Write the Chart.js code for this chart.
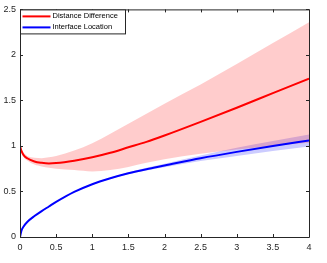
<!DOCTYPE html>
<html lang="en">
<head>
    <meta charset="UTF-8">
    <title>Distance Difference and Interface Location</title>
    <script src="https://cdn.jsdelivr.net/npm/chart.js@4.4.1/dist/chart.umd.min.js"></script>
    <style>
        html, body { margin: 0; padding: 0; background: #fff; }
        #wrap { width: 327px; height: 263px; }
    </style>
</head>
<body>
<div id="wrap"><canvas id="chart" width="327" height="263"></canvas></div>

<script>
    // values
    const xs        = [0, 0.02, 0.05, 0.1, 0.2, 0.3, 0.4, 0.5, 0.75, 1, 1.25, 1.5, 1.75, 2, 2.5, 3, 3.5, 4];
    const distDiff  = [1.0, 0.945, 0.90, 0.865, 0.83, 0.815, 0.808, 0.812, 0.838, 0.875, 0.925, 0.985, 1.045, 1.115, 1.265, 1.42, 1.58, 1.74];
    const distUpper = [1.0, 0.96, 0.925, 0.89, 0.87, 0.865, 0.875, 0.89, 0.95, 1.03, 1.135, 1.245, 1.355, 1.465, 1.675, 1.9, 2.13, 2.36];
    const distLower = [1.0, 0.935, 0.88, 0.84, 0.795, 0.775, 0.76, 0.75, 0.735, 0.72, 0.735, 0.77, 0.815, 0.855, 0.915, 0.96, 1.0, 1.035];
    const iface      = [0, 0.07, 0.115, 0.165, 0.23, 0.285, 0.335, 0.385, 0.495, 0.58, 0.645, 0.70, 0.745, 0.785, 0.865, 0.935, 1.0, 1.06];
    const ifaceUpper = [0, 0.07, 0.115, 0.165, 0.23, 0.285, 0.335, 0.385, 0.497, 0.585, 0.653, 0.71, 0.76, 0.805, 0.895, 0.98, 1.055, 1.125];
    const ifaceLower = [0, 0.07, 0.115, 0.165, 0.23, 0.285, 0.335, 0.385, 0.493, 0.575, 0.637, 0.69, 0.73, 0.765, 0.835, 0.89, 0.945, 0.995];
    const labels = ['Distance Difference', 'Interface Location'];
    const xTicks = [0, 0.5, 1, 1.5, 2, 2.5, 3, 3.5, 4];
    const yTicks = [0, 0.5, 1, 1.5, 2, 2.5];

    const pts = ys => xs.map((x, i) => ({x: x, y: ys[i]}));
    const font = {family: "'Liberation Sans', Arial, sans-serif", size: 9};
    const axisColor = '#262626';

    function line(label, ys, color) {
        return {
            label: label, data: pts(ys), borderColor: color, borderWidth: 2,
            pointRadius: 0, fill: false, cubicInterpolationMode: 'monotone', order: 0
        };
    }
    function band(ys, color, fill) {
        return {
            label: '', data: pts(ys), borderWidth: 0, borderColor: 'rgba(0,0,0,0)',
            backgroundColor: color, pointRadius: 0, fill: fill,
            cubicInterpolationMode: 'monotone', order: 1
        };
    }

    // box + inward ticks, MATLAB style
    const frame = {
        id: 'frame',
        afterDatasetsDraw(chart) {
            const {ctx, chartArea: a, scales: {x, y}} = chart;
            ctx.save();
            ctx.strokeStyle = axisColor;
            ctx.lineWidth = 1;
            ctx.beginPath();
            ctx.rect(a.left + 0.5, a.top + 0.5, a.right - a.left, a.bottom - a.top);
            xTicks.forEach(v => {
                const px = Math.round(x.getPixelForValue(v)) + 0.5;
                ctx.moveTo(px, a.bottom); ctx.lineTo(px, a.bottom - 3);
                ctx.moveTo(px, a.top); ctx.lineTo(px, a.top + 3);
            });
            yTicks.forEach(v => {
                const py = Math.round(y.getPixelForValue(v)) + 0.5;
                ctx.moveTo(a.left, py); ctx.lineTo(a.left + 3, py);
                ctx.moveTo(a.right, py); ctx.lineTo(a.right - 3, py);
            });
            ctx.stroke();
            ctx.restore();
        },
        afterDraw(chart) {
            const {ctx, chartArea: a} = chart;
            const colors = ['#ff0000', '#0000ff'];
            const left = a.left + 0.5, top = a.top + 0.5;
            ctx.save();
            ctx.fillStyle = '#fff';
            ctx.fillRect(left, top, 105, 24);
            ctx.strokeStyle = axisColor;
            ctx.lineWidth = 1;
            ctx.strokeRect(left, top, 105, 24);
            ctx.font = "7.5px 'Liberation Sans', Arial, sans-serif";
            ctx.textBaseline = 'middle';
            labels.forEach((t, i) => {
                const yy = top + 6.5 + i * 11;
                ctx.strokeStyle = colors[i];
                ctx.lineWidth = 2;
                ctx.beginPath();
                ctx.moveTo(left + 2, yy); ctx.lineTo(left + 30, yy);
                ctx.stroke();
                ctx.fillStyle = '#000';
                ctx.fillText(t, left + 32, yy);
            });
            ctx.restore();
        }
    };

    new Chart(document.getElementById('chart'), {
        type: 'scatter',
        data: {
            datasets: [
                line(labels[0], distDiff, '#ff0000'),
                line(labels[1], iface, '#0000ff'),
                band(distUpper, 'rgba(255,0,0,0.2)', '+1'),
                band(distLower, 'rgba(255,0,0,0.2)', false),
                band(ifaceUpper, 'rgba(0,0,255,0.2)', '+1'),
                band(ifaceLower, 'rgba(0,0,255,0.2)', false)
            ]
        },
        options: {
            responsive: false,
            animation: false,
            showLine: true,
            layout: {padding: {top: 9, right: 18, left: 0, bottom: 0}},
            plugins: {legend: {display: false}, tooltip: {enabled: false}},
            scales: {
                x: {
                    type: 'linear', min: 0, max: 4,
                    afterBuildTicks: s => { s.ticks = xTicks.map(v => ({value: v})); },
                    afterFit: s => { s.height = 26; },
                    grid: {display: false, drawTicks: false},
                    border: {display: false},
                    ticks: {font: font, color: axisColor, padding: 5, maxRotation: 0,
                            callback: v => String(v)}
                },
                y: {
                    type: 'linear', min: 0, max: 2.5,
                    afterBuildTicks: s => { s.ticks = yTicks.map(v => ({value: v})); },
                    afterFit: s => { s.width = 20; },
                    grid: {display: false, drawTicks: false},
                    border: {display: false},
                    ticks: {font: font, color: axisColor, padding: 4,
                            callback: v => String(v)}
                }
            }
        },
        plugins: [frame]
    });
</script>
</body>
</html>
